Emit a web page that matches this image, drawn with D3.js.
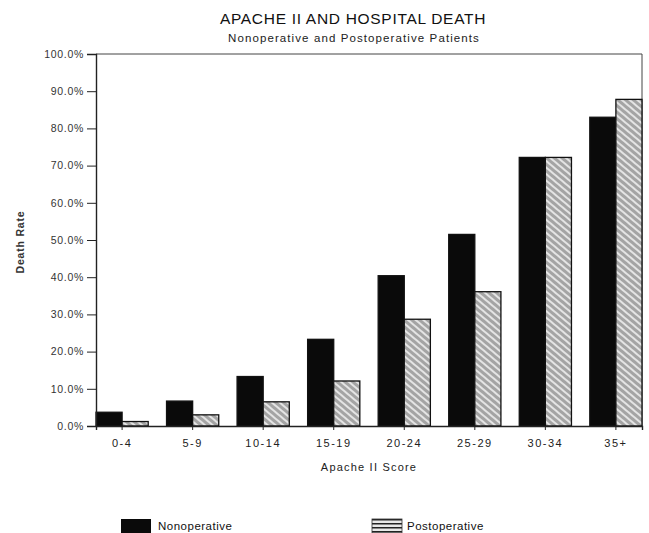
<!DOCTYPE html>
<html><head><meta charset="utf-8">
<script src="https://cdn.jsdelivr.net/npm/d3@7"></script>
<style>body{margin:0;background:#fff}svg{display:block;font-family:"Liberation Sans",Arial,sans-serif}</style>
</head><body><svg id="c" width="649" height="533"></svg>
<script>
const categories = ["0-4","5-9","10-14","15-19","20-24","25-29","30-34","35+"];
const nonoperative = [3.7, 6.7, 13.3, 23.3, 40.4, 51.5, 72.2, 83.0];
const postoperative = [1.2, 3.0, 6.5, 12.1, 28.7, 36.1, 72.2, 87.8];
const seriesNames = ["Nonoperative","Postoperative"];
const yTicks = [0,10,20,30,40,50,60,70,80,90,100];

const svg = d3.select("#c");
const L = 96, R = 642, T = 54, B = 426;
const x = d3.scaleBand().domain(categories).range([L, R]).paddingInner(0.26).paddingOuter(0);
const xs = d3.scaleBand().domain(seriesNames).range([0, x.bandwidth()]);
const y = d3.scaleLinear().domain([0, 100]).range([B, T]);
const FONT = "Liberation Sans, Arial, sans-serif";

const defs = svg.append("defs");
const pat = defs.append("pattern").attr("id","hatch").attr("patternUnits","userSpaceOnUse")
  .attr("width",5).attr("height",5).attr("patternTransform","rotate(40)");
pat.append("rect").attr("width",5).attr("height",5).attr("fill","#a4a4a4");
pat.append("rect").attr("width",5).attr("height",2).attr("fill","#e4e4e4");
const pat2 = defs.append("pattern").attr("id","hatchLeg").attr("patternUnits","userSpaceOnUse")
  .attr("width",6).attr("height",4);
pat2.append("rect").attr("width",6).attr("height",4).attr("fill","#e8e8e8");
pat2.append("rect").attr("width",6).attr("height",1.5).attr("fill","#222");

// frame
svg.append("path").attr("d",`M${L},${T}H${R}V${B}`).attr("fill","none").attr("stroke","#444").attr("stroke-width",1);

const data = categories.map((c,i)=>({c, vals:[{s:seriesNames[0],v:nonoperative[i]},{s:seriesNames[1],v:postoperative[i]}]}));
const g = svg.append("g").selectAll("g").data(data).join("g").attr("transform",d=>`translate(${x(d.c)},0)`);
g.selectAll("rect").data(d=>d.vals).join("rect")
  .attr("x",d=>xs(d.s)).attr("width",xs.bandwidth())
  .attr("y",d=>y(d.v)).attr("height",d=>B-y(d.v))
  .attr("fill",d=>d.s===seriesNames[0]?"#0a0a0a":"url(#hatch)")
  .attr("stroke","#111").attr("stroke-width",1.3);

// y axis
const ya = svg.append("g").attr("transform",`translate(${L},0)`)
  .call(d3.axisLeft(y).tickValues(yTicks).tickFormat(d=>d.toFixed(1)+"%").tickSize(9).tickPadding(3));
ya.select(".domain").attr("stroke","#222").attr("stroke-width",1.4);
ya.selectAll(".tick line").attr("stroke","#222");
ya.selectAll("text").attr("font-size",10.5).attr("letter-spacing","0.7px").attr("fill","#333").attr("font-family",FONT);

// x axis
const xa = svg.append("g").attr("transform",`translate(0,${B})`)
  .call(d3.axisBottom(x).tickSize(4).tickPadding(9));
xa.select(".domain").attr("stroke","#222").attr("stroke-width",1.4);
xa.selectAll(".tick line").attr("stroke","#222");
xa.selectAll("text").attr("font-size",11).attr("fill","#222").attr("letter-spacing","1.5px").attr("font-family",FONT);

// titles
svg.append("text").attr("x",353).attr("y",24).attr("text-anchor","middle")
  .attr("font-size",15.5).attr("letter-spacing","0.7px").attr("fill","#111").text("APACHE II AND HOSPITAL DEATH");
svg.append("text").attr("x",354).attr("y",42).attr("text-anchor","middle")
  .attr("font-size",11.5).attr("letter-spacing","1.1px").attr("fill","#222").text("Nonoperative and Postoperative Patients");
svg.append("text").attr("x",(L+R)/2).attr("y",471).attr("text-anchor","middle")
  .attr("font-size",11).attr("letter-spacing","1.2px").attr("fill","#222").text("Apache II Score");
svg.append("text").attr("transform",`translate(24,242) rotate(-90)`).attr("text-anchor","middle")
  .attr("font-size",10.5).attr("font-weight","bold").attr("letter-spacing","0.8px").attr("fill","#333").text("Death Rate");

// legend
const leg = [{s:seriesNames[0],x:121,fill:"#0a0a0a"},{s:seriesNames[1],x:372,fill:"url(#hatchLeg)"}];
const lg = svg.append("g").selectAll("g").data(leg).join("g").attr("transform",d=>`translate(${d.x},519)`);
lg.append("rect").attr("width",30).attr("height",14).attr("fill",d=>d.fill).attr("stroke",d=>d.s===seriesNames[0]?"none":"#333").attr("stroke-width",0.8);
lg.append("text").attr("x",d=>d.s===seriesNames[0]?37:35).attr("y",11).attr("font-size",11.5).attr("letter-spacing","0.5px").attr("fill","#111").text(d=>d.s);
</script></body></html>
